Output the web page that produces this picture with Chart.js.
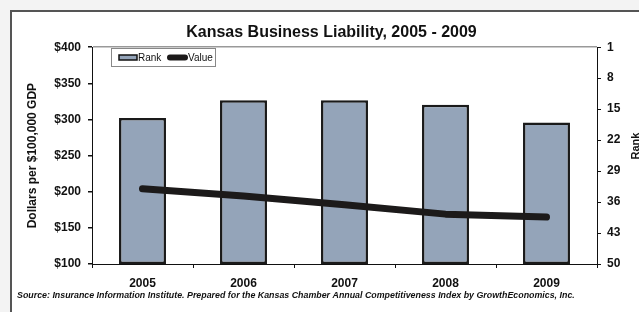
<!DOCTYPE html>
<html>
<head>
<meta charset="utf-8">
<script src="https://cdn.jsdelivr.net/npm/chart.js@4.4.1/dist/chart.umd.min.js"></script>
<style>
  html, body { margin: 0; padding: 0; background: #f3f3f3; overflow: hidden; }
  #frame { position: absolute; left: 10px; top: 10px; width: 700px; height: 400px;
           background: #fff; border-left: 2px solid #555; border-top: 2px solid #555; }
  #chart { position: absolute; left: 0; top: 0; }
</style>
</head>
<body>
<div id="frame"></div>
<canvas id="chart" width="639" height="312"></canvas>
<script>
// data
const years = ['2005', '2006', '2007', '2008', '2009'];
const rankValues = [17, 13, 13, 14, 18];          // right axis, 1 = best
const dollarValues = [204, 194, 182, 169, 165];   // left axis, $ per $100,000 GDP
const dollarRange = [100, 400];
const dollarStep = 50;
const rankRange = [1, 50];
const rankStep = 7;
const titleText = 'Kansas Business Liability, 2005 - 2009';
const rankAxisTitle = 'Rank';
const sourceText = 'Source: Insurance Information Institute. Prepared for the Kansas Chamber Annual Competitiveness Index by GrowthEconomics, Inc.';

const FONT = "'Liberation Sans', Arial, sans-serif";
const barFill = '#94a4b9';

// legend box, right axis title (reads bottom to top) and source line
const extras = {
    id: 'extras',
    afterDraw(chart) {
        const ctx = chart.ctx;
        ctx.save();
        // legend
        ctx.fillStyle = '#fff';
        ctx.strokeStyle = '#888';
        ctx.lineWidth = 1;
        ctx.fillRect(111.5, 48.5, 104, 18);
        ctx.strokeRect(111.5, 48.5, 104, 18);
        const ds = chart.data.datasets;
        ctx.fillStyle = ds[0].backgroundColor;
        ctx.fillRect(119, 55, 18, 5);
        ctx.strokeStyle = '#111';
        ctx.lineWidth = 1.5;
        ctx.strokeRect(119, 55, 18, 5);
        ctx.strokeStyle = ds[1].borderColor;
        ctx.lineWidth = 6;
        ctx.lineCap = 'round';
        ctx.beginPath();
        ctx.moveTo(170, 57.5);
        ctx.lineTo(185, 57.5);
        ctx.stroke();
        ctx.fillStyle = '#111';
        ctx.font = '10px ' + FONT;
        ctx.textBaseline = 'middle';
        ctx.fillText(ds[0].label, 138, 58);
        ctx.fillText(ds[1].label, 188, 58);
        // source note
        ctx.font = 'italic bold 8.85px ' + FONT;
        ctx.fillText(sourceText, 17, 296);
        // right axis title
        ctx.translate(636, 146);
        ctx.rotate(-Math.PI / 2);
        ctx.textAlign = 'center';
        ctx.font = 'bold 11px ' + FONT;
        ctx.fillText(rankAxisTitle, 0, 0);
        ctx.restore();
    }
};

new Chart(document.getElementById('chart'), {
    data: {
        labels: years,
        datasets: [
            {
                type: 'bar',
                label: 'Rank',
                data: rankValues.map(r => [rankRange[1], r]),
                yAxisID: 'y1',
                backgroundColor: barFill,
                borderColor: '#1a1a1a',
                borderWidth: 2.5,
                borderSkipped: false,
                barPercentage: 0.465,
                categoryPercentage: 1,
                order: 2
            },
            {
                type: 'line',
                label: 'Value',
                data: dollarValues,
                yAxisID: 'y',
                borderColor: '#1c1a1a',
                borderWidth: 7,
                borderCapStyle: 'round',
                borderJoinStyle: 'round',
                pointRadius: 0,
                tension: 0,
                order: 1
            }
        ]
    },
    options: {
        responsive: false,
        devicePixelRatio: 1,
        animation: false,
        layout: { padding: { left: 22, right: -2, top: 0, bottom: 0 } },
        plugins: {
            legend: { display: false },
            tooltip: { enabled: false },
            title: {
                display: true,
                text: titleText,
                color: '#111',
                font: { family: FONT, size: 16, weight: 'bold' },
                padding: { top: 23, bottom: 5 }
            }
        },
        scales: {
            x: {
                offset: true,
                grid: { offset: true, drawOnChartArea: false, color: '#111', tickLength: 4 },
                border: { color: '#111', width: 1 },
                ticks: { color: '#111', padding: 8, font: { family: FONT, size: 12, weight: 'bold' } },
                afterFit: s => { s.height = 48; }
            },
            y: {
                position: 'left',
                min: dollarRange[0],
                max: dollarRange[1],
                ticks: {
                    stepSize: dollarStep,
                    color: '#111',
                    padding: 7,
                    font: { family: FONT, size: 12, weight: 'bold' },
                    callback: v => '$' + v
                },
                grid: {
                    color: c => (c.tick && c.tick.value === dollarRange[1]) ? '#999' : 'transparent',
                    tickColor: '#111',
                    tickLength: 4,
                    lineWidth: 1.5
                },
                border: { color: '#111', width: 1 },
                title: {
                    display: true,
                    text: 'Dollars per $100,000 GDP',
                    color: '#111',
                    font: { family: FONT, size: 12, weight: 'bold' },
                    padding: { top: 3, bottom: 0 }
                },
                afterFit: s => { s.width = 70; }
            },
            y1: {
                position: 'right',
                reverse: true,
                min: rankRange[0],
                max: rankRange[1],
                ticks: {
                    stepSize: rankStep,
                    color: '#111',
                    padding: 6,
                    font: { family: FONT, size: 12, weight: 'bold' }
                },
                grid: { drawOnChartArea: false, color: '#111', tickLength: 4 },
                border: { color: '#111', width: 1 },
                afterFit: s => { s.width = 44; }
            }
        }
    },
    plugins: [extras]
});
</script>
</body>
</html>
